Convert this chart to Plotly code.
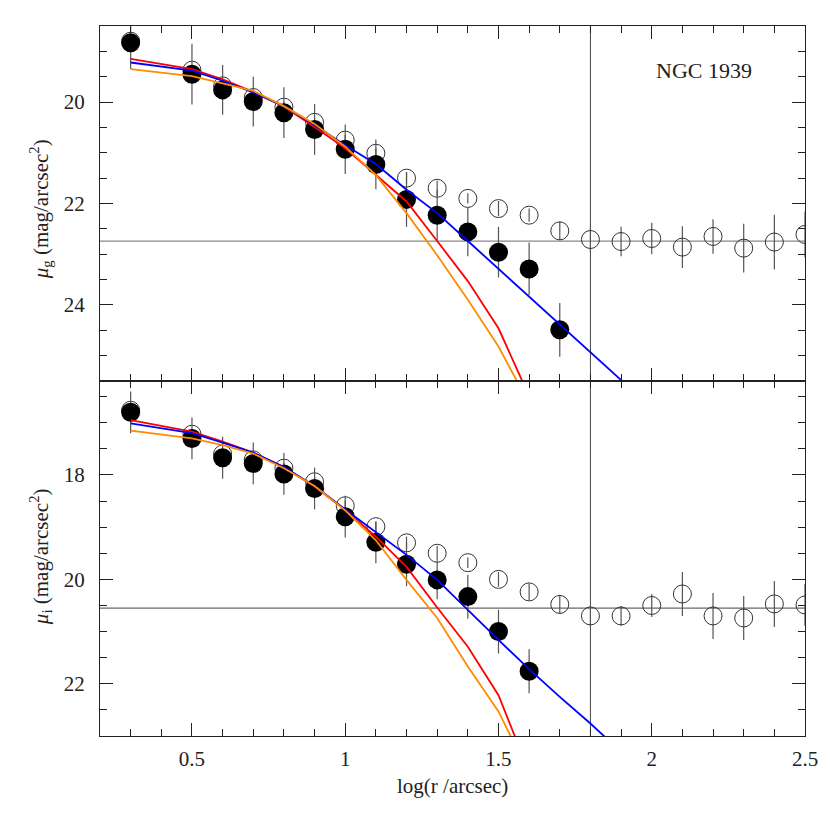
import plotly.graph_objects as go
from plotly.subplots import make_subplots

# ---------------- data ----------------
# radii (log r / arcsec)
x_black_g = [0.3, 0.5, 0.6, 0.7, 0.8, 0.9, 1.0, 1.1, 1.2, 1.3, 1.4, 1.5, 1.6, 1.7]
mu_black_g = [18.83, 19.45, 19.76, 19.99, 20.21, 20.54, 20.93, 21.23, 21.92, 22.23, 22.56, 22.96, 23.29, 24.49]
err_black_g = [0.52, 0.6, 0.49, 0.49, 0.5, 0.5, 0.49, 0.49, 0.54, 0.5, 0.48, 0.5, 0.52, 0.53]

x_open = [0.3, 0.5, 0.6, 0.7, 0.8, 0.9, 1.0, 1.1, 1.2, 1.3, 1.4, 1.5, 1.6, 1.7,
          1.8, 1.9, 2.0, 2.1, 2.2, 2.3, 2.4, 2.5]
mu_open_g = [18.80, 19.37, 19.68, 19.91, 20.10, 20.40, 20.75, 21.01, 21.50, 21.70, 21.90,
             22.10, 22.23, 22.54, 22.71, 22.75, 22.69, 22.86, 22.65, 22.88, 22.76, 22.61]
err_open_g = [0.1, 0.1, 0.1, 0.1, 0.1, 0.1, 0.1, 0.1, 0.12, 0.15, 0.1, 0.15, 0.13, 0.18,
              0.25, 0.29, 0.31, 0.41, 0.34, 0.48, 0.54, 0.45]

x_black_i = [0.3, 0.5, 0.6, 0.7, 0.8, 0.9, 1.0, 1.1, 1.2, 1.3, 1.4, 1.5, 1.6]
mu_black_i = [16.80, 17.30, 17.67, 17.78, 17.98, 18.26, 18.80, 19.29, 19.71, 20.01, 20.33, 21.00, 21.76]
err_black_i = [0.4, 0.4, 0.4, 0.4, 0.4, 0.4, 0.4, 0.4, 0.42, 0.37, 0.42, 0.42, 0.42]

mu_open_i = [16.76, 17.22, 17.60, 17.71, 17.87, 18.13, 18.59, 18.99, 19.30, 19.50, 19.68,
             20.00, 20.24, 20.48, 20.70, 20.70, 20.50, 20.28, 20.70, 20.74, 20.47, 20.49]
err_open_i = [0.1, 0.1, 0.1, 0.1, 0.1, 0.1, 0.1, 0.1, 0.12, 0.14, 0.1, 0.14, 0.16, 0.18,
              0.2, 0.19, 0.22, 0.42, 0.44, 0.42, 0.44, 0.4]

# model profiles
x_model = [0.3, 0.5, 0.6, 0.7, 0.8, 0.9, 1.0, 1.1, 1.2, 1.3, 1.4, 1.5, 1.6, 1.7, 1.8, 1.9, 2.0]
blue_g = [19.22, 19.38, 19.58, 19.81, 20.08, 20.45, 20.85, 21.22, 21.73, 22.19, 22.74,
          23.29, 23.84, 24.39, 24.93, 25.48, 26.03]
red_g = [19.15, 19.35, 19.55, 19.80, 20.09, 20.49, 20.91, 21.44, 21.96, 22.74, 23.53, 24.46, 25.80]
orange_g = [19.35, 19.49, 19.63, 19.78, 20.08, 20.43, 20.88, 21.44, 22.19, 23.02, 23.90, 24.82, 25.95]

blue_i = [17.01, 17.20, 17.38, 17.57, 17.85, 18.21, 18.66, 19.09, 19.53, 20.01, 20.59,
          21.16, 21.72, 22.25, 22.76, 23.30, 23.85]
red_i = [16.95, 17.17, 17.36, 17.57, 17.85, 18.22, 18.67, 19.18, 19.76, 20.54, 21.29, 22.22, 23.69]
orange_i = [17.15, 17.30, 17.43, 17.59, 17.87, 18.21, 18.68, 19.25, 20.01, 20.74, 21.67, 22.53, 23.73]

sky_g = 22.74
sky_i = 20.55
r_limit = 1.8

x_ticks = [0.5, 1, 1.5, 2, 2.5]
g_ticks = [20, 22, 24]
i_ticks = [18, 20, 22]

# ---------------- figure ----------------
FONT = "Liberation Serif"
AX = "#222222"
fig = make_subplots(rows=2, cols=1, shared_xaxes=True, vertical_spacing=0)

def add_panel(row, mu_open, e_open, xb, mu_b, e_b, red, blue, orange):
    fig.add_trace(go.Scatter(
        x=x_open, y=mu_open, mode="markers",
        marker=dict(symbol="circle-open", size=18, color="#333333", line=dict(width=1, color="#333333")),
        error_y=dict(type="data", array=e_open, color="#555555", thickness=1.2, width=0),
        showlegend=False), row=row, col=1)
    fig.add_trace(go.Scatter(
        x=xb, y=mu_b, mode="markers",
        marker=dict(symbol="circle", size=19, color="black", line=dict(width=0)),
        error_y=dict(type="data", array=e_b, color="#555555", thickness=1.2, width=0),
        showlegend=False), row=row, col=1)
    for yy, col in [(red, "#ff0000"), (blue, "#0000ff"), (orange, "#ff8c00")]:
        fig.add_trace(go.Scatter(
            x=x_model[:len(yy)], y=yy, mode="lines",
            line=dict(color=col, width=1.8), showlegend=False), row=row, col=1)

add_panel(1, mu_open_g, err_open_g, x_black_g, mu_black_g, err_black_g, red_g, blue_g, orange_g)
add_panel(2, mu_open_i, err_open_i, x_black_i, mu_black_i, err_black_i, red_i, blue_i, orange_i)

axis_common = dict(showline=True, linecolor=AX, linewidth=1, mirror="ticks",
                   ticks="inside", ticklen=13, tickcolor=AX, tickwidth=1,
                   showgrid=False, zeroline=False,
                   tickfont=dict(family=FONT, size=21, color="#222222"))

fig.update_xaxes(**axis_common, range=[0.2, 2.5], tickvals=x_ticks, ticklabelstandoff=4,
                 minor=dict(dtick=0.1, tick0=0, ticks="inside", ticklen=7, tickcolor=AX))
fig.update_xaxes(showticklabels=False, row=1, col=1)
fig.update_yaxes(**axis_common, ticklabelstandoff=10,
                 minor=dict(dtick=0.5, tick0=0, ticks="inside", ticklen=7, tickcolor=AX))
fig.update_yaxes(range=[25.5, 18.5], tickvals=g_ticks, row=1, col=1)
fig.update_yaxes(range=[23.0, 16.2], tickvals=i_ticks, row=2, col=1)

# reference lines
fig.add_shape(type="line", xref="x", yref="paper", x0=r_limit, x1=r_limit, y0=0, y1=1,
              line=dict(color="#444444", width=1), layer="below")
fig.add_shape(type="line", xref="x domain", yref="y", x0=0, x1=1, y0=sky_g, y1=sky_g,
              line=dict(color="#888888", width=1.2), layer="below")
fig.add_shape(type="line", xref="x2 domain", yref="y2", x0=0, x1=1, y0=sky_i, y1=sky_i,
              line=dict(color="#444444", width=1), layer="below")

fig.add_annotation(text="NGC 1939", xref="x", yref="y", x=2.17, y=19.37, showarrow=False,
                   font=dict(family=FONT, size=22, color="#222222"))
fig.add_annotation(text="<i>μ</i><sub>g</sub> (mag/arcsec<sup>2</sup>)", xref="paper", yref="paper",
                   x=-0.085, y=0.742, xanchor="center", yanchor="middle", textangle=-90, showarrow=False,
                   font=dict(family=FONT, size=21, color="#222222"))
fig.add_annotation(text="<i>μ</i><sub>i</sub> (mag/arcsec<sup>2</sup>)", xref="paper", yref="paper",
                   x=-0.085, y=0.252, xanchor="center", yanchor="middle", textangle=-90, showarrow=False,
                   font=dict(family=FONT, size=21, color="#222222"))
fig.add_annotation(text="log(r /arcsec)", xref="paper", yref="paper",
                   x=0.5, y=-0.071, yanchor="middle", showarrow=False,
                   font=dict(family=FONT, size=21, color="#222222"))

fig.update_layout(width=830, height=829, margin=dict(l=100, r=21, t=26, b=93),
                  paper_bgcolor="white", plot_bgcolor="white")

fig.write_html("out.html", config={"displayModeBar": False},
               post_script="document.body.style.margin='0px';")
